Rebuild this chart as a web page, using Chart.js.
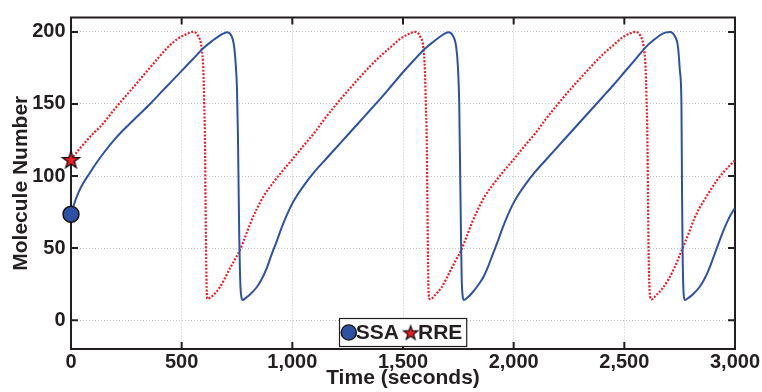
<!DOCTYPE html>
<html><head><meta charset="utf-8">
<script src="https://cdn.jsdelivr.net/npm/chart.js@4.4.1/dist/chart.umd.min.js"></script>
<style>html,body{margin:0;padding:0;background:#fff;}#wrap{width:762px;height:392px;}</style>
</head><body><div id="wrap"><canvas id="c" width="762" height="392"></canvas></div>
<script>
// ---- data ----
const xTickValues = [0, 500, 1000, 1500, 2000, 2500, 3000];
const yTickValues = [0, 50, 100, 150, 200];
const seriesLabels = ['SSA', 'RRE'];
const xTitle = 'Time (seconds)';
const yTitle = 'Molecule Number';

const ssaTime = [0,15,35,55,78,110,150,206,250,300,357,400,450,500,550,600,640,670,690,705,722,735,744,750,754,757,760,763,766,770,776,
  790,810,840,860,884,905,929,950,974,995,1019,1050,1095,1150,1200,1250,1300,1350,1400,1450,1500,1550,1600,1640,1670,1690,1706,1725,1740,1748,1754,1758,1762,1765,1769,1775,
  1790,1810,1847,1865,1884,1905,1929,1950,1974,1995,2019,2050,2095,2150,2200,2250,2300,2350,2400,2450,2500,2550,2600,2630,2661,2685,2706,2728,2743,2751,2758,2761,2764,2768,2773,
  2790,2810,2840,2860,2884,2917,2950,2975,3000];
const ssaCount = [73.5,81,89,95,100.5,108,116.5,127,134,141.5,150,157,165,173,181,189,194,197.3,199,199.8,198,192,178,160,130,95,60,36,22,16,14,
  15.5,18,23,28,36,45,54.5,63.5,72.5,79.5,86,93,102,111.5,120,128.5,137,145.5,154,163,172,180.5,188.5,193.5,197,199,199.8,197.5,190,176,150,105,59,30,17.5,14,
  15.5,18.5,26,30.5,37,45.5,55,64,73,80,86.5,93.5,102.5,112,120.5,129,137.5,146,154.5,163,172,181,190,194,197.7,199.5,200,197,189,173,150,82,40,18,14,
  15.5,18,23,28,36,49.7,63,71.5,78];

const rreTime = [0,50,100,131,200,281,350,400,432,480,522,552,575,590,598,602,605,608,611,613,616,630,650,673,695,718,740,763,785,810,839,870,914,950,997,
  1050,1100,1140,1200,1290,1350,1400,1441,1490,1525,1553,1577,1592,1599,1603,1607,1610,1613,1615,1619,1624,1645,1673,1695,1718,1740,1763,1785,1810,1839,1870,1914,1950,1997,
  2050,2100,2140,2200,2290,2350,2400,2441,2490,2525,2550,2572,2587,2596,2600,2604,2607,2610,2613,2617,2623,2645,2675,2700,2725,2745,2766,2790,2815,2840,2856,2880,2914,2950,3000];
const rreCount = [111.5,121,129.5,134,147,161.5,174,183,188.5,195,198.5,200,197,189,173,150,127,80,40,22,14.8,15.8,18.5,23,29,36,42,48.5,57,67,77,86,95.5,102.5,111,
  121,130,138.5,150,166,176,183.5,189,195.5,198.5,200,197,189,173,150,127,85,42,22,15,14.5,17.5,22.5,28.5,35.5,42,48.5,57,67,77,86,95.5,102.5,111,
  121,130,138.5,150,166,176,184,189.5,196,199,200,197.5,190,175,155,128,85,45,24,16,14.4,17.5,22.5,28.5,36,43,51,60,70,78,82,88,96,103,111];

const ssaStartTime = [0];
const ssaStartCount = [73.5];
const rreStartTime = [0];
const rreStartCount = [111.5];

// ---- styling ----
const BLUE = '#2d52a3';
const RED = '#ee1c25';
const INK = '#231f20';
const FONT = "'Liberation Sans', Arial, Helvetica, sans-serif";

function starCanvas(R, fill, stroke, lw) {
  const size = Math.ceil(2 * R + lw * 2 + 4);
  const c = document.createElement('canvas');
  c.width = size; c.height = size;
  const g = c.getContext('2d');
  const cx = size / 2, cy = size / 2 + R * 0.1;
  g.beginPath();
  for (let i = 0; i < 10; i++) {
    const r = i % 2 === 0 ? R : R * 0.4;
    const a = -Math.PI / 2 + i * Math.PI / 5;
    g.lineTo(cx + r * Math.cos(a), cy + r * Math.sin(a));
  }
  g.closePath();
  g.fillStyle = fill; g.fill();
  g.lineWidth = lw; g.strokeStyle = stroke; g.lineJoin = 'miter'; g.stroke();
  return c;
}
const starBig = starCanvas(9, RED, '#111', 1.3);
const starSmall = starCanvas(7.5, RED, '#111', 1.2);

const toPts = (ts, vs) => ts.map((t, i) => ({ x: t, y: vs[i] }));

const framePlugin = {
  id: 'frame',
  beforeDatasetsDraw(chart) {
    const { ctx, chartArea: a, scales: { x, y } } = chart;
    ctx.save();
    ctx.strokeStyle = INK; ctx.lineWidth = 2;
    ctx.beginPath();
    x.ticks.forEach(t => {
      const px = x.getPixelForValue(t.value);
      ctx.moveTo(px, a.bottom); ctx.lineTo(px, a.bottom - 7);
      ctx.moveTo(px, a.top); ctx.lineTo(px, a.top + 7);
    });
    y.ticks.forEach(t => {
      const py = y.getPixelForValue(t.value);
      ctx.moveTo(a.left, py); ctx.lineTo(a.left + 7, py);
      ctx.moveTo(a.right, py); ctx.lineTo(a.right - 7, py);
    });
    ctx.stroke();
    ctx.strokeRect(a.left, a.top, a.right - a.left, a.bottom - a.top);
    ctx.restore();
  }
};

const legendPlugin = {
  id: 'boxLegend',
  afterDraw(chart) {
    const { ctx, chartArea: a } = chart;
    ctx.save();
    ctx.font = 'bold 21px ' + FONT;
    const w1 = ctx.measureText(seriesLabels[0]).width;
    const w2 = ctx.measureText(seriesLabels[1]).width;
    const total = 9.3 + 7 + w1 + 11.7 + 7.3 + w2 + 4.4;
    const cxMid = (a.left + a.right) / 2;
    const left = Math.round(cxMid - total / 2) + 0.5;
    const top = 318.5, h = 28;
    ctx.fillStyle = '#fff';
    ctx.fillRect(left, top, total, h);
    ctx.strokeStyle = INK; ctx.lineWidth = 1.2;
    ctx.strokeRect(left, top, total, h);
    const cy = top + h / 2;
    // circle marker
    const c1 = left + 9.3;
    ctx.beginPath(); ctx.arc(c1, cy, 7.6, 0, Math.PI * 2);
    ctx.fillStyle = BLUE; ctx.fill();
    ctx.lineWidth = 1.4; ctx.strokeStyle = '#111'; ctx.stroke();
    ctx.fillStyle = INK; ctx.textBaseline = 'middle'; ctx.textAlign = 'left';
    const t1 = c1 + 7;
    ctx.fillText(seriesLabels[0], t1, cy + 1);
    const c2 = t1 + w1 + 11.7;
    ctx.drawImage(starSmall, c2 - starSmall.width / 2, cy - starSmall.height / 2);
    ctx.fillStyle = INK;
    ctx.fillText(seriesLabels[1], c2 + 7.3, cy + 1);
    ctx.restore();
  }
};

new Chart(document.getElementById('c'), {
  type: 'line',
  data: {
    datasets: [
      { label: seriesLabels[0], data: toPts(ssaStartTime, ssaStartCount), showLine: false,
        pointStyle: 'circle', pointRadius: 8, backgroundColor: BLUE, borderColor: '#111', borderWidth: 1.4, clip: false },
      { label: seriesLabels[1], data: toPts(rreStartTime, rreStartCount), showLine: false,
        pointStyle: starBig, pointRadius: 9, backgroundColor: RED, borderColor: '#111', clip: false },
      { label: 'SSA trajectory', data: toPts(ssaTime, ssaCount), borderColor: BLUE, borderWidth: 2,
        pointRadius: 0, fill: false, cubicInterpolationMode: 'monotone', clip: 0 },
      { label: 'RRE trajectory', data: toPts(rreTime, rreCount), borderColor: RED, borderWidth: 2.2,
        borderDash: [2, 1.6], borderCapStyle: 'butt', pointRadius: 0, fill: false, cubicInterpolationMode: 'monotone', clip: 0 }
    ]
  },
  options: {
    responsive: false,
    animation: false,
    devicePixelRatio: 1,
    layout: { padding: { top: 13, right: 27, left: 0, bottom: 0 } },
    plugins: { legend: { display: false }, tooltip: { enabled: false } },
    scales: {
      x: {
        type: 'linear', min: 0, max: 3000,
        afterBuildTicks: s => { s.ticks = xTickValues.map(v => ({ value: v })); },
        afterFit: s => { s.height = 43; },
        ticks: { autoSkip: false, maxRotation: 0, padding: 1.8, color: INK,
          font: { family: FONT, size: 20, weight: 'bold' } },
        grid: { color: '#c4c4c4', lineWidth: 1, drawTicks: false },
        border: { display: false, dash: [1, 2] },
        title: { display: true, text: xTitle, color: INK, padding: { top: 0, bottom: 1 },
          font: { family: FONT, size: 21, weight: 'bold' } }
      },
      y: {
        type: 'linear', min: -20, max: 210,
        afterBuildTicks: s => { s.ticks = yTickValues.map(v => ({ value: v })); },
        afterFit: s => { s.width = 71; },
        ticks: { padding: 5.5, color: INK, font: { family: FONT, size: 20, weight: 'bold' } },
        grid: { color: '#c4c4c4', lineWidth: 1, drawTicks: false },
        border: { display: false, dash: [1, 2] },
        title: { display: true, text: yTitle, color: INK, padding: { top: 8.4, bottom: 0 },
          font: { family: FONT, size: 21, weight: 'bold' } }
      }
    }
  },
  plugins: [framePlugin, legendPlugin]
});
</script>
</body></html>
